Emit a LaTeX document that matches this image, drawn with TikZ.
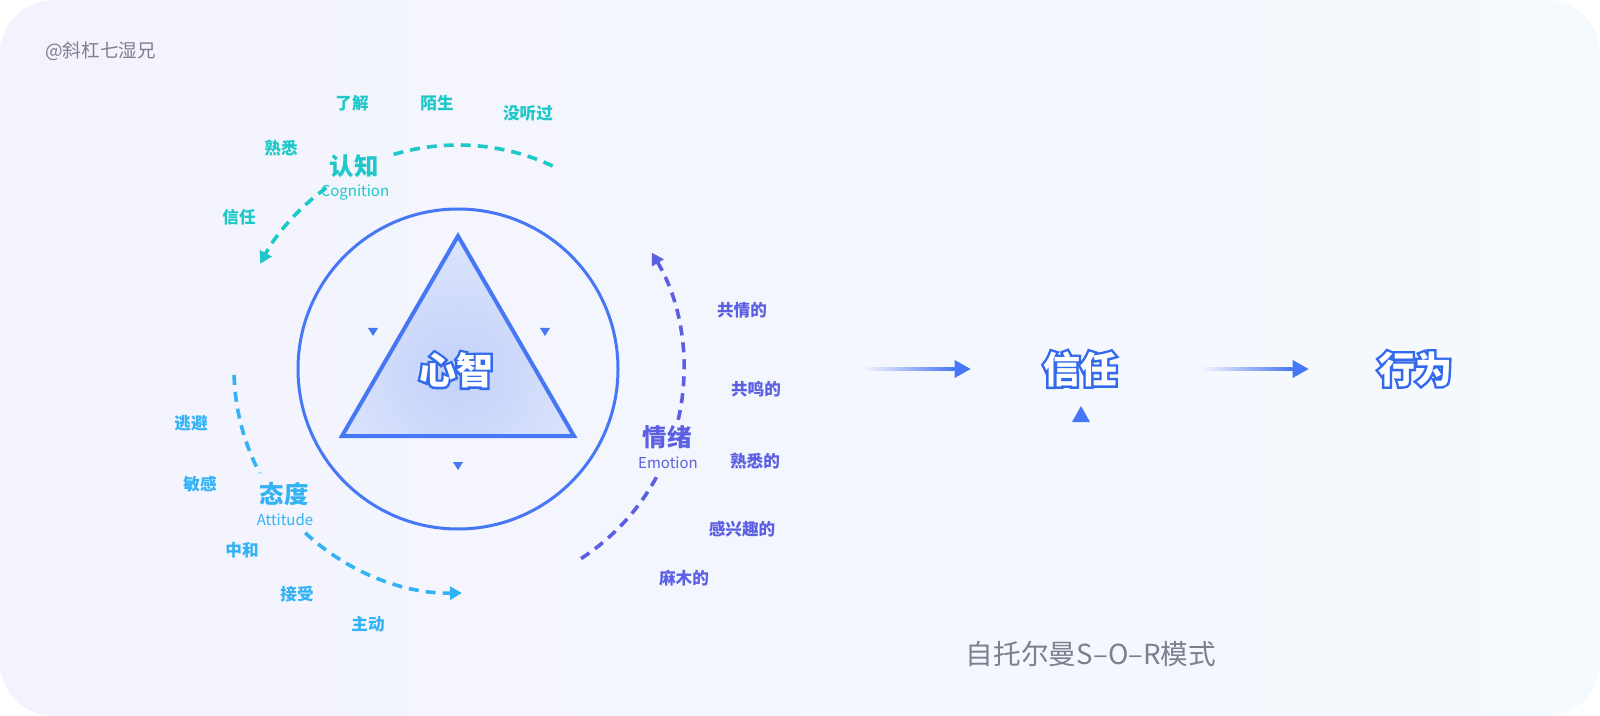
\documentclass[tikz,border=0pt]{standalone}
\usepackage{fontspec}
\setmainfont{Noto Sans CJK SC}
\usepackage{xcolor}
\definecolor{CogTeal}{HTML}{1FC8C8}
\definecolor{EmoPurple}{HTML}{5B5FE2}
\definecolor{AttBlue}{HTML}{33B2F5}
\definecolor{MindBlue}{HTML}{4677F5}
\definecolor{RimBlue}{HTML}{336AEC}
\definecolor{LabelGray}{HTML}{7E7E8E}
\definecolor{BgLeft}{HTML}{F3F3FD}
\definecolor{BgRight}{HTML}{F5FAFE}
\definecolor{TriInner}{HTML}{C3D1FA}
\definecolor{TriOuter}{HTML}{EEF2FD}
\usetikzlibrary{arrows.meta,calc}

% white letters with a blue rim (rim = stroked copy behind)
\newcommand\outlined[1]{\rlap{\color{RimBlue}\special{pdf:literal 2 Tr 2.4 w}#1\special{pdf:literal 0 Tr 0.4 w}}{\color{white}#1}}

\begin{document}
\begin{tikzpicture}[x=0.5pt,y=-0.5pt,
    every node/.style={font=\bfseries\fontsize{8.3pt}{10pt}\selectfont,inner sep=0pt},
    cogword/.style={text=CogTeal},
    emoword/.style={text=EmoPurple},
    attword/.style={text=AttBlue},
    dimtitle/.style={font=\bfseries\fontsize{12.2pt}{14pt}\selectfont},
    dimsub/.style={font=\fontsize{7.5pt}{9pt}\selectfont},
    dimarc/.style={line width=1.8pt,dash pattern=on 5pt off 3.5pt},
    bigword/.style={font=\bfseries\fontsize{18.5pt}{22pt}\selectfont},
    >={Triangle[length=6pt,width=6.5pt]}]
    \fill[white] (0,0) rectangle (1600,716);
    \shade[left color=BgLeft,right color=BgRight,rounded corners=27pt] (0,0) rectangle (1600,716);
    \useasboundingbox (0,0) rectangle (1600,716);
    \node[font=\fontsize{9.3pt}{11pt}\selectfont,text=LabelGray,anchor=west] (credit) at (45,51) {@斜杠七湿兄};

    % mind: circle and triangle
    \coordinate (mc) at (458,369);
    \coordinate (apex) at (458,236);
    \coordinate (bl) at (342,436);
    \coordinate (br) at (574,436);
    \draw[MindBlue,line width=1.5pt] (mc) circle[radius=160];
    \begin{scope}
      \clip (apex) -- (br) -- (bl) -- cycle;
      \shade[inner color=TriInner,outer color=TriOuter] (458,372) circle[radius=230];
    \end{scope}
    \draw[MindBlue,line width=2pt] (apex) -- (br) -- (bl) -- cycle;
    \node[bigword] (mind) at (456,370) {\outlined{心智}};
    \foreach \tx/\ty in {373/332,545/332,458/466}
      \fill[MindBlue] (\tx-5,\ty-4) -- (\tx+5,\ty-4) -- (\tx,\ty+4) -- cycle;

    % cognition
    \draw[dimarc,CogTeal] (mc) ++(-65:224) arc[start angle=-65,end angle=-107,radius=224];
    \draw[dimarc,CogTeal,->] (mc) ++(-126:224) arc[start angle=-126,end angle=-152,radius=224];
    \node[dimtitle,text=CogTeal] (cog) at (354,166) {认知};
    \node[dimsub,text=CogTeal] (cogen) at (355,193) {Cognition};
    \node[cogword] (c1) at (352,103) {了解};
    \node[cogword] (c2) at (437,103) {陌生};
    \node[cogword] (c3) at (528,113) {没听过};
    \node[cogword] (c4) at (281,148) {熟悉};
    \node[cogword] (c5) at (239,217) {信任};

    % emotion
    \draw[dimarc,EmoPurple] (mc) ++(57:226) arc[start angle=57,end angle=28,radius=226];
    \draw[dimarc,EmoPurple,->] (mc) ++(13:226) arc[start angle=13,end angle=-31,radius=226];
    \node[dimtitle,text=EmoPurple] (emo) at (667,437) {情绪};
    \node[dimsub,text=EmoPurple] (emoen) at (668,463) {Emotion};
    \node[emoword] (e1) at (742,310) {共情的};
    \node[emoword] (e2) at (756,389) {共鸣的};
    \node[emoword] (e3) at (755,461) {熟悉的};
    \node[emoword] (e4) at (742,529) {感兴趣的};
    \node[emoword] (e5) at (684,578) {麻木的};

    % attitude
    \draw[dimarc,AttBlue] (mc) ++(-181.5:224) arc[start angle=-181.5,end angle=-207.7,radius=224];
    \draw[dimarc,AttBlue,->] (mc) ++(-227:224) arc[start angle=-227,end angle=-271,radius=224];
    \node[dimtitle,text=AttBlue] (att) at (284,494) {态度};
    \node[dimsub,text=AttBlue] (atten) at (285,520) {Attitude};
    \node[attword] (a1) at (191,423) {逃避};
    \node[attword] (a2) at (200,484) {敏感};
    \node[attword] (a3) at (242,550) {中和};
    \node[attword] (a4) at (297,594) {接受};
    \node[attword] (a5) at (368,624) {主动};

    % trust -> behaviour
    \node[bigword] (trust) at (1080,369) {\outlined{信任}};
    \node[bigword] (act) at (1415,369) {\outlined{行为}};
    \fill[MindBlue] (1072,422) -- (1090,422) -- (1081,406) -- cycle;
    \coordinate (in1) at (865,369);
    \coordinate (out1) at ($(trust.west)+(-72,0)$);
    \coordinate (in2) at ($(trust.east)+(85,0)$);
    \coordinate (out2) at ($(act.west)+(-69,0)$);
    \foreach \a/\b in {in1/out1,in2/out2}{
      \shade[left color=BgLeft,right color=MindBlue] ($(\a)+(0,-1.8)$) rectangle ($(\b)+(-16,1.8)$);
      \fill[MindBlue] (\b) -- ($(\b)+(-16,-9)$) -- ($(\b)+(-16,9)$) -- cycle;
    }

    \node[font=\fontsize{13.8pt}{16pt}\selectfont,text=LabelGray] (cap) at (1091,654) {自托尔曼S–O–R模式};
  \end{tikzpicture}
\end{document}
